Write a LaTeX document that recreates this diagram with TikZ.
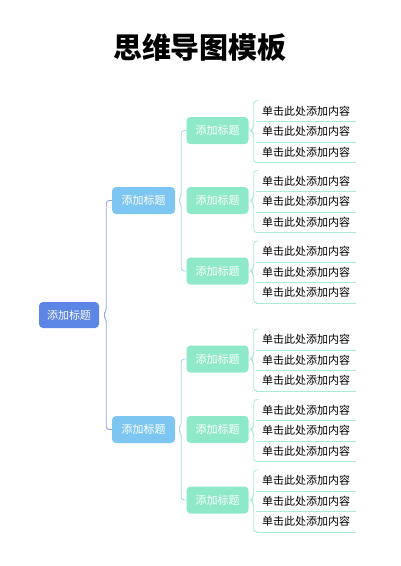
\documentclass[tikz,border=0pt]{standalone}
\usepackage{fontspec}
\setmainfont{Noto Sans CJK SC}
\usetikzlibrary{calc}
\definecolor{rootblue}{HTML}{5B86E5}
\definecolor{topicblue}{HTML}{7DC6F2}
\definecolor{submint}{HTML}{8EE9C9}
\definecolor{rootline}{HTML}{8EA8E6}
\definecolor{topicline}{HTML}{A9D7F1}
\definecolor{subline}{HTML}{A9EBD5}

\begin{document}
\begin{tikzpicture}[
        x={(1pt,0pt)},
        y={(0pt,-1pt)},
        box/.style={rectangle, rounded corners=4pt, text=white, minimum height=27pt, inner sep=0pt, font=\fontsize{11}{11}\selectfont},
        rootbox/.style={box, fill=rootblue, minimum width=60pt, minimum height=26pt},
        topicbox/.style={box, fill=topicblue, minimum width=63pt},
        subbox/.style={box, fill=submint, minimum width=62pt},
        leaf/.style={rectangle, minimum width=99pt, minimum height=20.5pt, inner sep=0pt, font=\fontsize{11}{11}\selectfont},
        underline/.style={draw=subline, line width=0.9pt},
        rootlink/.style={draw=rootline, line width=0.9pt, rounded corners=3pt},
        topiclink/.style={draw=topicline, line width=0.9pt, rounded corners=3pt},
        sublink/.style={draw=subline, line width=0.9pt, rounded corners=3pt},
        ]
        \useasboundingbox (0,0) rectangle (400,566);

        \node(title) at (200,47) {\fontsize{29}{29}\selectfont\bfseries 思维导图模板};

        \node(root)[rootbox] at (69,315) {添加标题};
        \node(t1)[topicbox] at (143.5,200.5) {添加标题};
        \node(t2)[topicbox] at (143.5,429.5) {添加标题};

        \foreach \s/\c in {1/130.5, 2/200.5, 3/271, 4/359, 5/429.5, 6/500} {
          \node(s\s)[subbox] at (217.5,\c) {添加标题};
          \node(l\s1)[leaf] at (306,\c-19.5) {单击此处添加内容};
          \node(l\s2)[leaf] at (306,\c+1) {单击此处添加内容};
          \node(l\s3)[leaf] at (306,\c+21.5) {单击此处添加内容};
          \foreach \k in {1,2,3}
            \draw[underline] (l\s\k.south west) -- (l\s\k.south east);
          \draw[sublink] (l\s1.north west) -| ($(s\s.east)+(5,-3.5)$) -- ($(s\s.east)+(2,0)$) -- ($(s\s.east)+(5,3.5)$) |- (l\s3.south west);
        }

        \draw[rootlink] (t1.west) -| ($(root.east)+(7,-4)$) -- ($(root.east)+(4,0)$) -- ($(root.east)+(7,4)$) |- (t2.west);
        \draw[topiclink] (s1.west) -| ($(t1.east)+(6,-4)$) -- ($(t1.east)+(3,0)$) -- ($(t1.east)+(6,4)$) |- (s3.west);
        \draw[topiclink] (s4.west) -| ($(t2.east)+(6,-4)$) -- ($(t2.east)+(3,0)$) -- ($(t2.east)+(6,4)$) |- (s6.west);

      \end{tikzpicture}
\end{document}
